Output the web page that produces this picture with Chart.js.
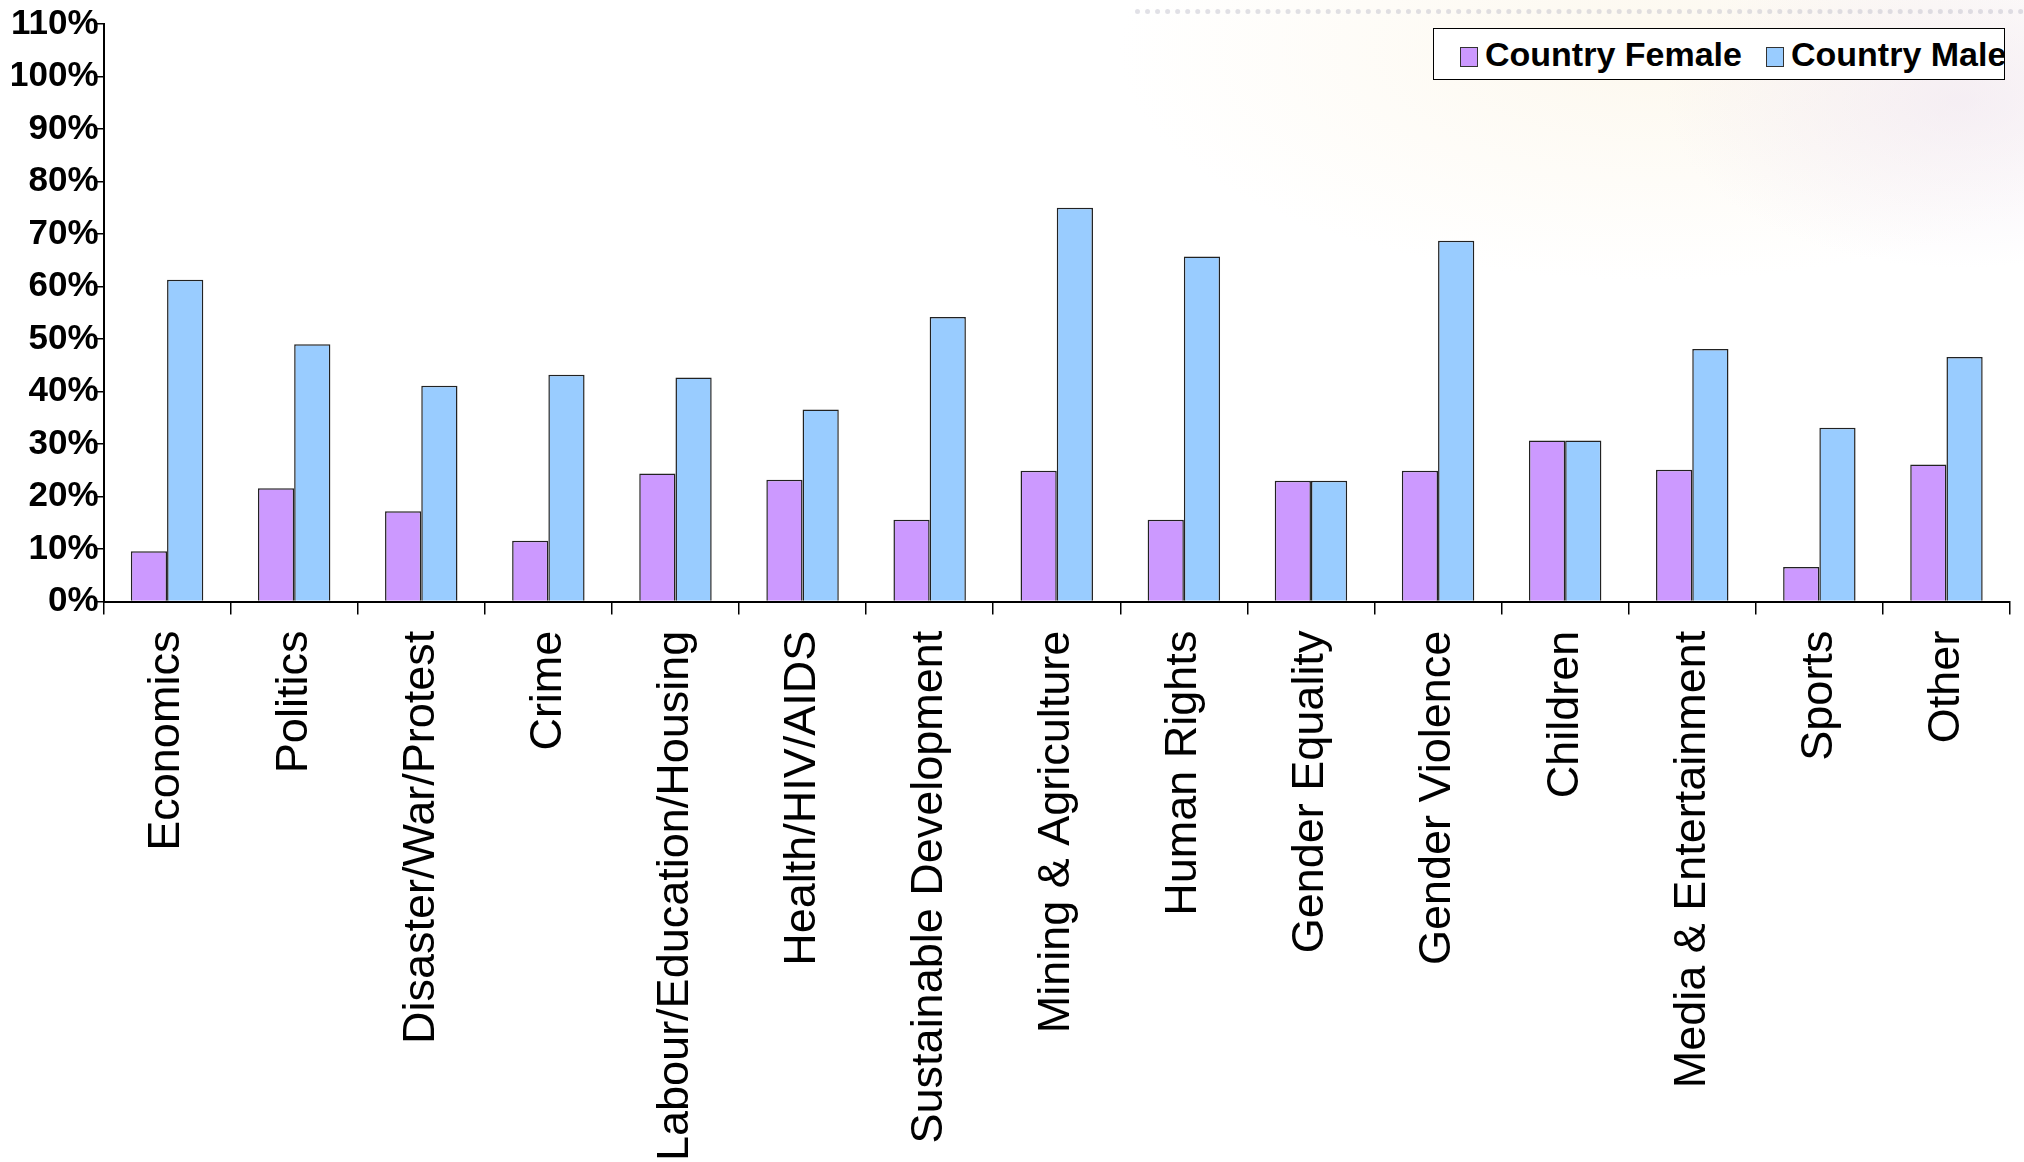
<!DOCTYPE html>
<html>
<head>
<meta charset="utf-8">
<title>Topics by gender</title>
<script src="https://cdn.jsdelivr.net/npm/chart.js@4.4.1/dist/chart.umd.min.js"></script>
<style>
    html, body {
        margin: 0;
        padding: 0;
        width: 2024px;
        height: 1162px;
        overflow: hidden;
        background: #ffffff;
    }
    .page {
        position: relative;
        width: 2024px;
        height: 1162px;
        background:
            radial-gradient(ellipse 420px 240px at 1960px 100px, rgba(236, 224, 238, 0.5), rgba(255,255,255,0) 70%),
            radial-gradient(ellipse 760px 330px at 1650px 50px, rgba(250, 240, 218, 0.45), rgba(255,255,255,0) 70%),
            #ffffff;
    }
    .dots {
        position: absolute;
        left: 1135px;
        top: 9px;
        width: 889px;
        height: 0;
        border-top: 5px dotted rgba(180, 180, 195, 0.4);
    }
    canvas {
        position: absolute;
        left: 0;
        top: 0;
    }
    .legend {
        position: absolute;
        left: 1433px;
        top: 28px;
        width: 570px;
        height: 50px;
        border: 1.5px solid #000;
        background: #fff;
        overflow: hidden;
        white-space: nowrap;
        font-family: "Liberation Sans", Arial, sans-serif;
        font-weight: bold;
        font-size: 34px;
        line-height: 50px;
        color: #000;
    }
    .legend span.item { position: absolute; top: 0; }
    .legend i {
        display: inline-block;
        width: 16px;
        height: 18px;
        border: 1.5px solid #333;
        vertical-align: -1px;
        margin-right: 7px;
    }
</style>
</head>
<body>
<div class="page">
    <div class="dots"></div>
    <canvas id="topicChart" width="2024" height="1162"></canvas>
    <div class="legend" id="legend"></div>
</div>
<script>
const categories = ['Economics', 'Politics', 'Disaster/War/Protest', 'Crime', 'Labour/Education/Housing',
    'Health/HIV/AIDS', 'Sustainable Development', 'Mining & Agriculture', 'Human Rights', 'Gender Equality',
    'Gender Violence', 'Children', 'Media & Entertainment', 'Sports', 'Other'];

const femaleValues = [9.6, 21.6, 17.2, 11.6, 24.4, 23.2, 15.6, 24.9, 15.6, 23.0, 24.9, 30.7, 25.1, 6.6, 26.1];
const maleValues = [61.3, 49.0, 41.1, 43.2, 42.7, 36.6, 54.2, 75.0, 65.7, 23.0, 68.7, 30.7, 48.1, 33.1, 46.6];

const seriesNames = ['Country Female', 'Country Male'];
const seriesColors = ['#CC99FF', '#99CCFF'];

const yTicks = [0, 10, 20, 30, 40, 50, 60, 70, 80, 90, 100, 110];

const ctx = document.getElementById('topicChart').getContext('2d');

const chart = new Chart(ctx, {
    type: 'bar',
    data: {
        labels: categories,
        datasets: [
            { label: seriesNames[0], data: femaleValues, backgroundColor: seriesColors[0] },
            { label: seriesNames[1], data: maleValues, backgroundColor: seriesColors[1] }
        ]
    },
    options: {
        responsive: false,
        devicePixelRatio: 1,
        animation: false,
        layout: { padding: { top: 24, right: 14, bottom: -15, left: 12 } },
        datasets: {
            bar: {
                categoryPercentage: 0.57,
                barPercentage: 1.0,
                borderColor: '#222',
                borderWidth: 1.5
            }
        },
        plugins: {
            legend: { display: false },
            tooltip: { enabled: false }
        },
        scales: {
            x: {
                grid: {
                    offset: true,
                    drawOnChartArea: false,
                    drawTicks: true,
                    tickLength: 13,
                    color: '#000',
                    lineWidth: 1.5
                },
                border: { color: '#000', width: 2 },
                ticks: {
                    autoSkip: false,
                    maxRotation: 90,
                    minRotation: 90,
                    padding: 16,
                    color: '#000',
                    font: { family: '"Liberation Sans", Arial, sans-serif', size: 45 }
                }
            },
            y: {
                min: 0,
                max: 110,
                afterBuildTicks: (scale) => {
                    scale.ticks = yTicks.map(v => ({ value: v }));
                },
                grid: {
                    drawOnChartArea: false,
                    drawTicks: true,
                    tickLength: 8,
                    color: '#000',
                    lineWidth: 1.5
                },
                border: { color: '#000', width: 2 },
                ticks: {
                    padding: -3,
                    color: '#000',
                    font: { family: '"Liberation Sans", Arial, sans-serif', size: 35, weight: 'bold' },
                    callback: (v) => v + '%'
                }
            }
        }
    }
});

// legend in a bordered box, like the original
const legendEl = document.getElementById('legend');
const legendX = [26, 332];
seriesNames.forEach((name, i) => {
    const item = document.createElement('span');
    item.className = 'item';
    item.style.left = legendX[i] + 'px';
    item.innerHTML = '<i style="background:' + seriesColors[i] + '"></i>' + name;
    legendEl.appendChild(item);
});
</script>
</body>
</html>
